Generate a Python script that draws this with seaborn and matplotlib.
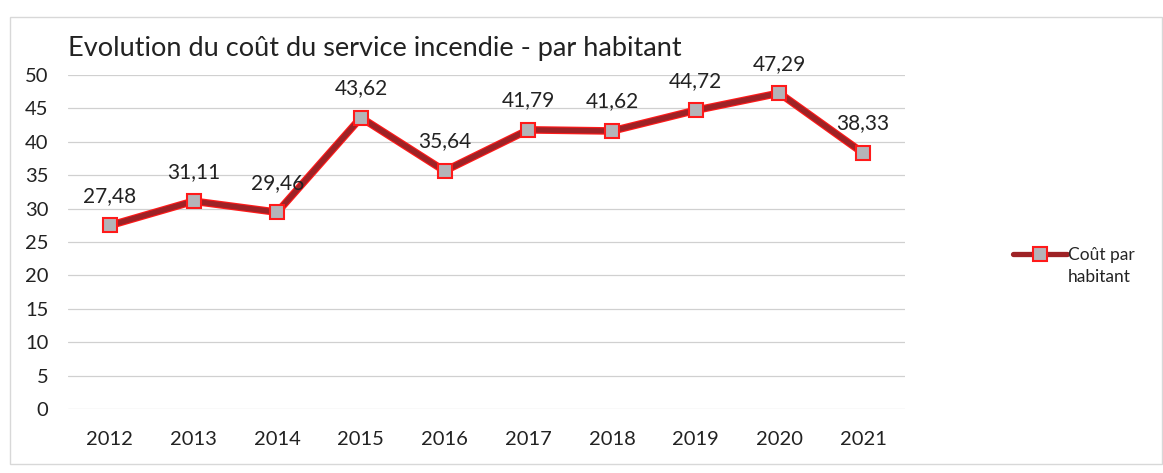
import pandas as pd
import matplotlib.pyplot as plt
import seaborn as sns
from matplotlib.patches import Rectangle
from matplotlib.lines import Line2D

# data
years = ["2012", "2013", "2014", "2015", "2016", "2017", "2018", "2019", "2020", "2021"]
cout_par_habitant = [27.48, 31.11, 29.46, 43.62, 35.64, 41.79, 41.62, 44.72, 47.29, 38.33]
y_ticks = [0, 5, 10, 15, 20, 25, 30, 35, 40, 45, 50]

df = pd.DataFrame({"annee": years, "cout": cout_par_habitant})

sns.set_style("white")
plt.rcParams['font.family'] = ['Lato', 'DejaVu Sans']

line_col = "#9e2226"
edge_col = "#ff1a1a"
fill_col = "#b4b4b8"

fig = plt.figure(figsize=(11.63, 4.73), dpi=100)
ax = fig.add_axes([0.0585, 0.1353, 0.7195, 0.7061])

# red outline under the dark red line, like the Excel style
sns.lineplot(data=df, x="annee", y="cout", ax=ax, color=edge_col, linewidth=5.5, sort=False)
sns.lineplot(data=df, x="annee", y="cout", ax=ax, color=line_col, linewidth=3.8,
             marker="s", markersize=9.5, markerfacecolor=fill_col,
             markeredgecolor=edge_col, markeredgewidth=1.5, sort=False)

# data labels, comma decimal
for i, v in enumerate(cout_par_habitant):
    ax.annotate(f"{v:.2f}".replace(".", ","), (i, v), xytext=(0, 14),
                textcoords="offset points", ha="center", va="bottom",
                fontsize=15, color="#222222")

ax.set_xlim(-0.5, len(years) - 0.5)
ax.set_ylim(0, 50)
ax.set_yticks(y_ticks)
ax.tick_params(axis="both", length=0, labelsize=14.5, labelcolor="#222222")
ax.tick_params(axis="x", pad=16)
ax.tick_params(axis="y", pad=14)
ax.grid(axis="y", color="#d0d0d0", linewidth=0.9)
for s in ax.spines.values():
    s.set_visible(False)
ax.set_xlabel("")
ax.set_ylabel("")

fig.text(0.0585, 0.87, "Evolution du coût du service incendie - par habitant",
         fontsize=19.5, color="#222222", ha="left", va="bottom")

# legend on the right, second line of the label written below
handle = Line2D([], [], color=line_col, linewidth=3.8, marker="s", markersize=9.5,
                markerfacecolor=fill_col, markeredgecolor=edge_col, markeredgewidth=1.5)
leg = fig.legend([handle], ["Coût par"], loc="center left",
                 bbox_to_anchor=(0.865, 0.461), frameon=False, fontsize=12.5,
                 handlelength=3.1, handletextpad=0.1, borderaxespad=0)
fig.text(0.9185, 0.415, "habitant", fontsize=12.5, color="#222222",
         ha="left", va="center")

# outer chart border
fig.patches.append(Rectangle((0.009, 0.02), 0.99, 0.945, transform=fig.transFigure,
                             fill=False, edgecolor="#d8d8d8", linewidth=1))

fig.savefig("out.png", dpi=100)
